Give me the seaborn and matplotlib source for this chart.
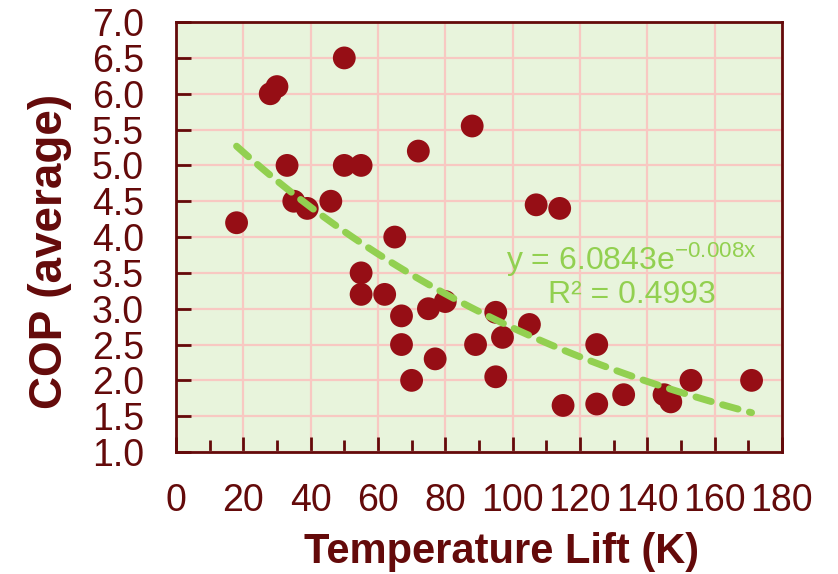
import numpy as np
import pandas as pd
import matplotlib
matplotlib.use("Agg")
import matplotlib.pyplot as plt
from matplotlib.ticker import MultipleLocator
import seaborn as sns

# Temperature lift (K) vs average COP
temp_lift = [18, 28, 30, 50, 33, 35, 39, 46, 50, 55,
             72, 88, 65, 55, 55, 62, 67, 67, 70, 75,
             80, 77, 89, 95, 97, 95, 105, 107, 114, 115,
             125, 125, 133, 145, 147, 153, 171]
cop_avg = [4.2, 6.0, 6.1, 6.5, 5.0, 4.5, 4.4, 4.5, 5.0, 5.0,
           5.2, 5.55, 4.0, 3.5, 3.2, 3.2, 2.9, 2.5, 2.0, 3.0,
           3.1, 2.3, 2.5, 2.95, 2.6, 2.05, 2.78, 4.45, 4.4, 1.65,
           2.5, 1.67, 1.8, 1.8, 1.7, 2.0, 2.0]

# exponential trendline coefficients as printed on the chart
fit_a = 6.0843
fit_b = -0.008
fit_r2 = 0.4993

maroon = "#640A0A"
dot_red = "#960E15"
trend_green = "#92D050"

sns.set_style("ticks")
plt.rcParams["font.family"] = ["Liberation Sans", "DejaVu Sans"]
plt.rcParams["mathtext.default"] = "regular"

df = pd.DataFrame({"lift": temp_lift, "cop": cop_avg})

fig = plt.figure(figsize=(8.38, 5.74), dpi=100)
ax = fig.add_axes([0.210, 0.2125, 0.723, 0.749])
ax.set_facecolor("#E8F4DC")

sns.scatterplot(data=df, x="lift", y="cop", ax=ax, s=270, color=dot_red,
                edgecolor="none", zorder=3)

# trendline over the range of the data
xs = np.linspace(min(temp_lift), max(temp_lift), 100)
ax.plot(xs, fit_a * np.exp(fit_b * xs), color=trend_green, lw=5,
        dashes=(2.3, 1.7), dash_capstyle="round", zorder=4)

ax.text(0.752, 0.447, r"y = 6.0843e$^{-0.008x}$", transform=ax.transAxes,
        ha="center", va="center", fontsize=23, color=trend_green, zorder=5)
ax.text(0.752, 0.365, f"R² = {fit_r2}", transform=ax.transAxes,
        ha="center", va="center", fontsize=23, color=trend_green, zorder=5)

ax.set_xlim(0, 180)
ax.set_ylim(1.0, 7.0)
ax.xaxis.set_major_locator(MultipleLocator(20))
ax.xaxis.set_minor_locator(MultipleLocator(10))
ax.yaxis.set_major_locator(MultipleLocator(0.5))
ax.yaxis.set_major_formatter(matplotlib.ticker.FormatStrFormatter("%.1f"))

ax.grid(True, which="major", color="#F8C8C2", lw=1.6, zorder=1)
ax.set_axisbelow(True)

for side in ["left", "bottom", "right", "top"]:
    ax.spines[side].set_color(maroon)
    ax.spines[side].set_linewidth(2)
    ax.spines[side].set_visible(True)

ax.tick_params(axis="both", which="both", direction="in", color=maroon,
               width=2, labelcolor=maroon, labelsize=27)
ax.tick_params(axis="x", which="major", length=11, pad=22)
ax.tick_params(axis="x", which="minor", length=9)
ax.tick_params(axis="y", which="major", length=11, pad=23)

ax.set_xlabel("Temperature Lift (K)", fontsize=30, fontweight="bold",
              color=maroon)
ax.set_ylabel("COP (average)", fontsize=33, fontweight="bold", color=maroon)
ax.xaxis.set_label_coords(0.538, -0.185)
ax.yaxis.set_label_coords(-0.172, 0.467)

fig.savefig("out.png", dpi=100)
